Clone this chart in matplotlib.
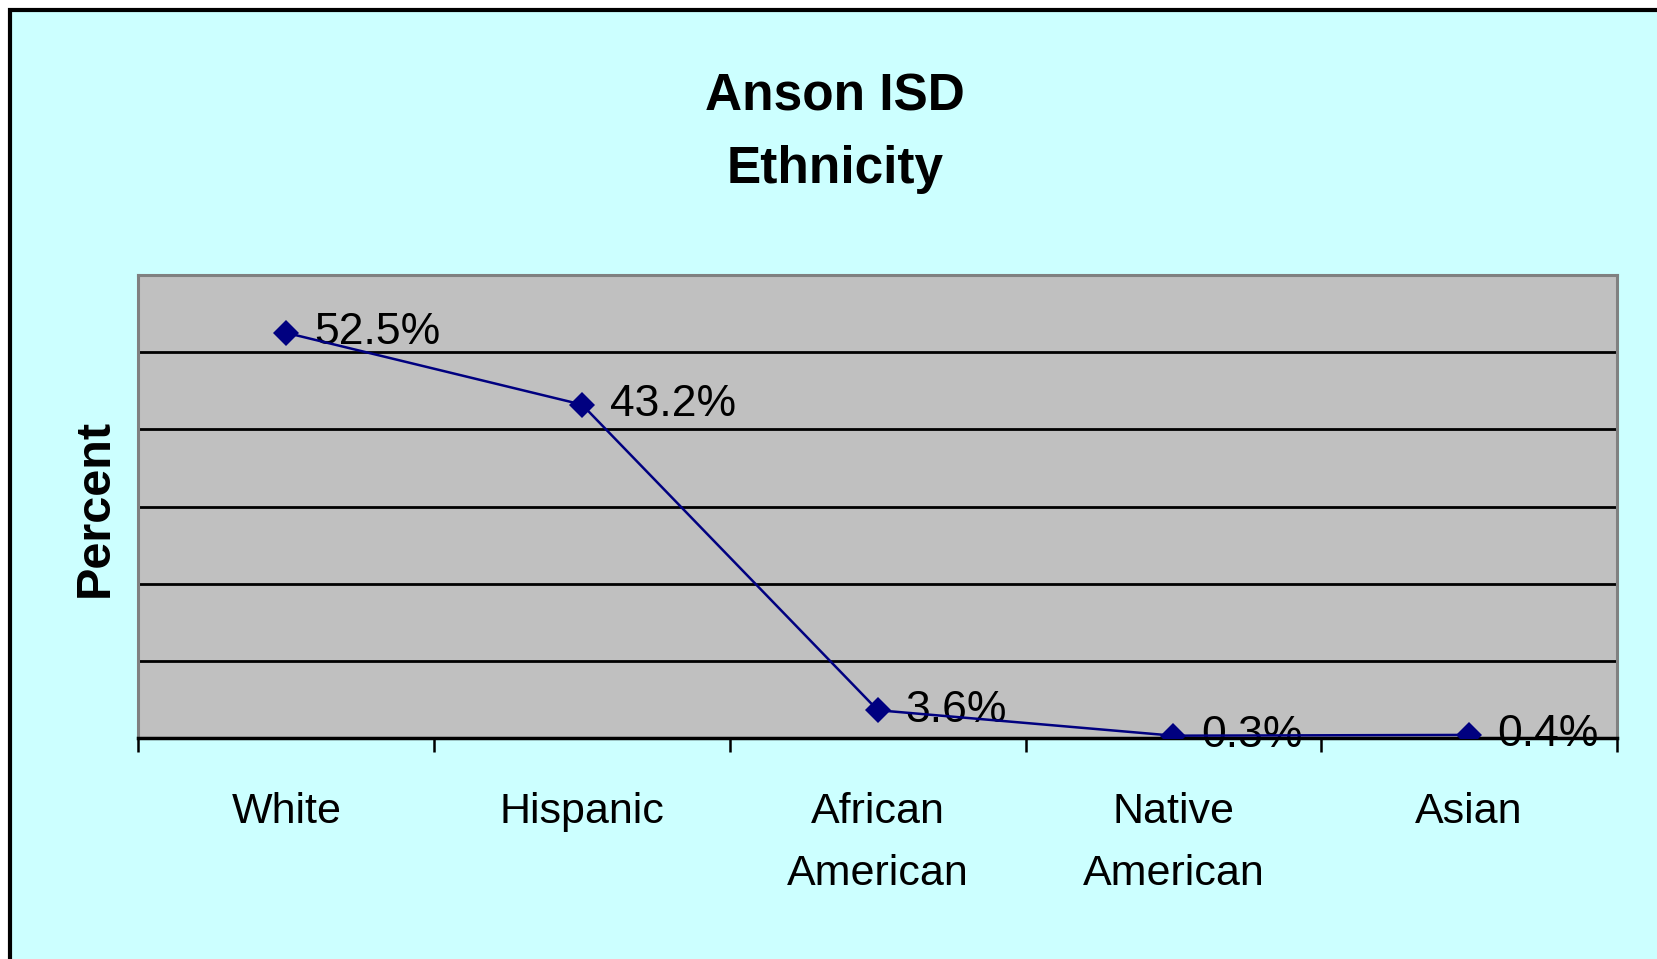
import matplotlib
matplotlib.use("Agg")
import matplotlib.pyplot as plt
from matplotlib.patches import Rectangle
import numpy as np

categories = ["White", "Hispanic", "African\nAmerican", "Native\nAmerican", "Asian"]
values = [52.5, 43.2, 3.6, 0.3, 0.4]
labels = ["52.5%", "43.2%", "3.6%", "0.3%", "0.4%"]
title_lines = ["Anson ISD", "Ethnicity"]
ylabel = "Percent"

plt.rcParams['font.family'] = ['Liberation Sans', 'DejaVu Sans']

W, H = 1658, 959
fig = plt.figure(figsize=(W / 100, H / 100), dpi=100, facecolor='white')

# cyan chart area with black frame (only top and left visible)
fig.patches.append(Rectangle((10 / W, -0.05), 1.2, (H - 10) / H + 0.05,
                             transform=fig.transFigure, facecolor='#CCFFFF',
                             edgecolor='black', linewidth=3.0, zorder=-10))

ax = fig.add_axes([138.5 / W, 1 - 738 / H, (1617 - 138.5) / W, (738 - 275) / H])
ax.set_zorder(1)
ax.set_facecolor('#C0C0C0')

x = np.arange(len(categories))
ax.plot(x, values, color='#000080', linewidth=1.8, marker='D', markersize=13,
        markeredgewidth=0, zorder=4)
for xi, v, lab in zip(x, values, labels):
    ax.annotate(lab, (xi, v), xytext=(20, 0), textcoords='offset points',
                ha='left', va='center', fontsize=32, color='black', zorder=3)

ax.set_xlim(-0.5, len(categories) - 0.5)
ax.set_ylim(0, 60)
ax.set_yticks(np.arange(10, 60, 10))
ax.yaxis.grid(True, color='black', linewidth=2.0)
ax.tick_params(axis='y', length=0, labelleft=False)
ax.set_axisbelow(True)

ax.set_xticks(np.arange(-0.5, len(categories), 1.0))
ax.set_xticklabels([])
ax.tick_params(axis='x', which='major', direction='out', length=10, width=1.8, color='black')
ax.set_xticks(x, minor=True)
ax.set_xticklabels(categories, minor=True, fontsize=31, linespacing=1.72)
ax.tick_params(axis='x', which='minor', length=0, pad=39)

for s in ['left', 'top', 'right']:
    ax.spines[s].set_color('#808080')
    ax.spines[s].set_linewidth(2.2)
ax.spines['bottom'].set_color('black')
ax.spines['bottom'].set_linewidth(2.5)

fig.text(835 / W, 1 - 97 / H, title_lines[0], ha='center', va='center',
         fontsize=37, fontweight='bold')
fig.text(835 / W, 1 - 170 / H, title_lines[1], ha='center', va='center',
         fontsize=37, fontweight='bold')
fig.text(95 / W, 1 - 508 / H, ylabel, ha='center', va='center', rotation=90,
         fontsize=35, fontweight='bold')

fig.savefig('out.png', dpi=100, facecolor='white')
